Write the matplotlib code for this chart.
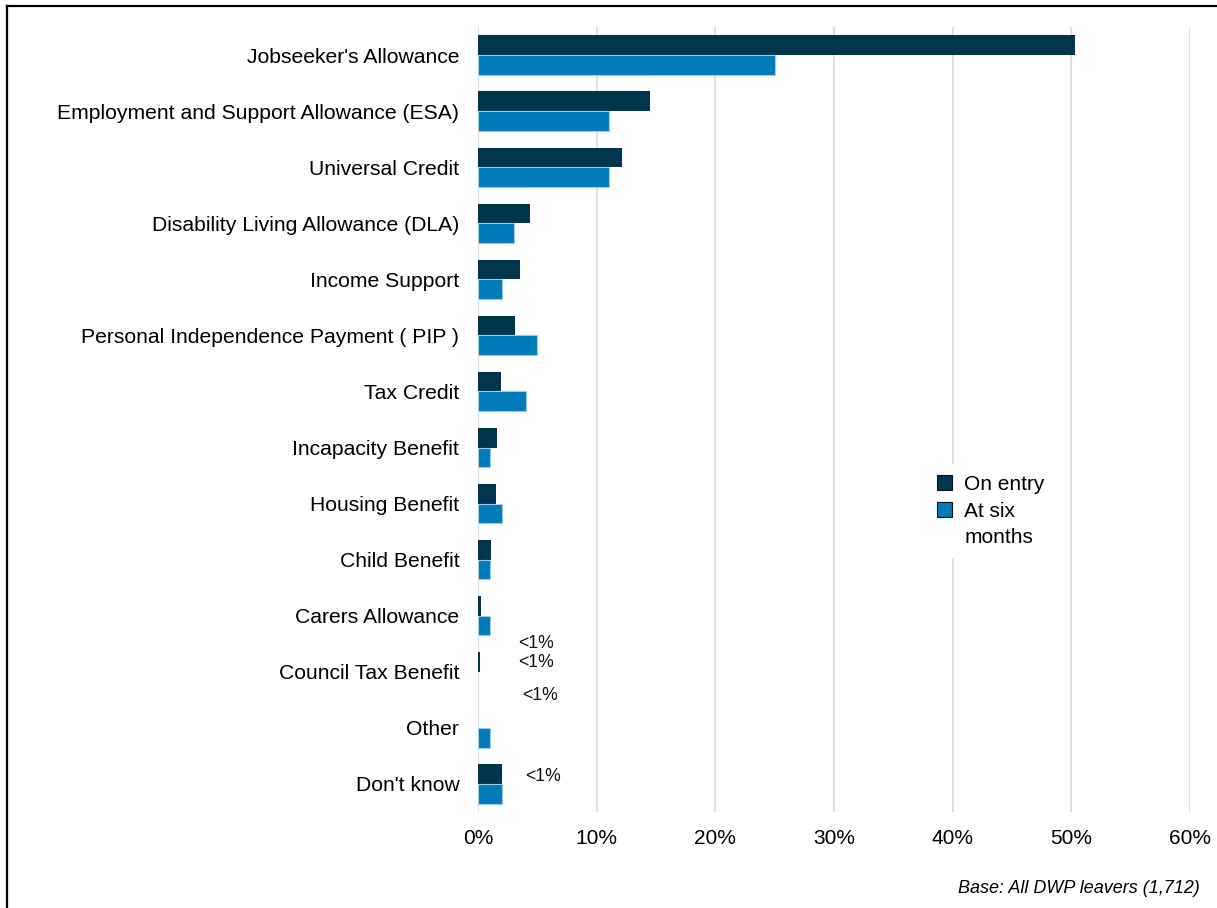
import matplotlib.pyplot as plt
import numpy as np
from matplotlib.patches import Patch
from matplotlib.lines import Line2D

plt.rcParams['font.family'] = ['Liberation Sans', 'DejaVu Sans']

# benefit types, top to bottom
categories = [
    "Jobseeker's Allowance",
    "Employment and Support Allowance (ESA)",
    "Universal Credit",
    "Disability Living Allowance (DLA)",
    "Income Support",
    "Personal Independence Payment ( PIP )",
    "Tax Credit",
    "Incapacity Benefit",
    "Housing Benefit",
    "Child Benefit",
    "Carers Allowance",
    "Council Tax Benefit",
    "Other",
    "Don't know",
]

# percentage of leavers claiming each benefit
on_entry = [50.3, 14.5, 12.1, 4.4, 3.5, 3.1, 1.9, 1.6, 1.5, 1.1, 0.25, 0.2, 0.0, 2.0]
at_six_months = [25.0, 11.0, 11.0, 3.0, 2.0, 5.0, 4.0, 1.0, 2.0, 1.0, 1.0, 0.0, 1.0, 2.0]

# small values flagged as "<1%" (x in %, y in category units)
small_labels = ["<1%", "<1%", "<1%", "<1%"]
small_x = [3.4, 3.4, 3.7, 4.0]
small_y = [10.5, 10.84, 11.43, 12.86]

x_ticks = [0, 10, 20, 30, 40, 50, 60]

navy = "#00344F"
blue = "#007AB8"

fig = plt.figure(figsize=(12.17, 9.08), dpi=100)
ax = fig.add_axes([0.3928, 0.1057, 0.585, 0.8646])

y = np.arange(len(categories))
h = 0.35
ax.barh(y - h / 2, on_entry, height=h, color=navy, zorder=3)
ax.barh(y + h / 2, at_six_months, height=h, color=blue, edgecolor="#9CCBEA",
        linewidth=[0.8 if v > 0 else 0 for v in at_six_months], zorder=3)

for lab, xv, yv in zip(small_labels, small_x, small_y):
    ax.text(xv, yv, lab, fontsize=12.7, va="center", ha="left", color="#111111")

ax.set_ylim(len(categories) - 0.5, -0.5)
ax.set_xlim(0, 60)
ax.set_yticks(y)
ax.set_yticklabels(categories, fontsize=15.2)
ax.set_xticks(x_ticks)
ax.set_xticklabels([f"{t}%" for t in x_ticks], fontsize=15)
ax.tick_params(axis="y", length=0, pad=13.5)
ax.tick_params(axis="x", length=0, pad=12)
ax.grid(axis="x", color="#D9D9D9", linewidth=1.2, zorder=0)
for s in ax.spines.values():
    s.set_visible(False)

# second label wraps onto a line of its own, with no swatch
handles = [
    Patch(facecolor=navy, edgecolor="#111111", linewidth=0.8, label="On entry"),
    Patch(facecolor=blue, edgecolor="#111111", linewidth=0.8, label="At six"),
    Patch(facecolor="none", edgecolor="none", label="months"),
]
ax.legend(handles=handles, loc="upper left", bbox_to_anchor=(0.63, 0.443),
          frameon=True, facecolor="white", edgecolor="none", framealpha=1,
          fontsize=15, handlelength=0.7, handleheight=0.7, handletextpad=0.6,
          labelspacing=0.38, borderaxespad=0, borderpad=0.5)

fig.text(0.986, 0.012, "Base: All DWP leavers (1,712)", fontsize=13,
         style="italic", ha="right", va="bottom")

# outer frame (left and top edges)
fig.add_artist(Line2D([7 / 1217, 7 / 1217], [0, 1 - 6 / 908],
                      color="black", linewidth=1.6, transform=fig.transFigure))
fig.add_artist(Line2D([7 / 1217, 1], [1 - 6 / 908, 1 - 6 / 908],
                      color="black", linewidth=1.6, transform=fig.transFigure))

fig.savefig("out.png", dpi=100)
